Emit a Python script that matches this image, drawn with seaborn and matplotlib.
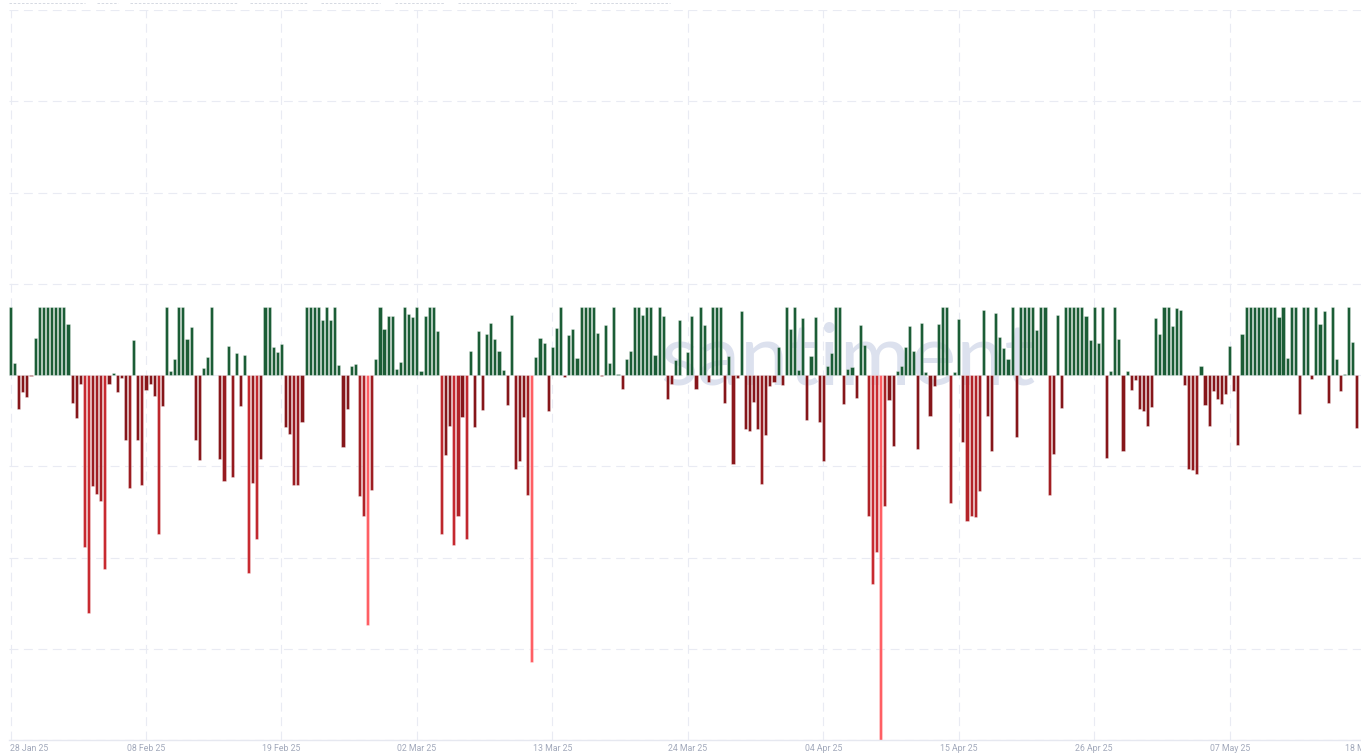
import matplotlib.pyplot as plt
import matplotlib.dates as mdates
from matplotlib.lines import Line2D
import numpy as np
import pandas as pd
import seaborn as sns

# 8-hourly bars, 28 Jan 2025 onwards (positive side is capped at 0.75)
start = "2025-01-28"
values = [
    0.75, 0.13, -0.37, -0.19, -0.24, -0.01, 0.41, 0.75, 0.75, 0.75,
    0.75, 0.75, 0.75, 0.75, 0.56, -0.31, -0.47, -0.10, -1.88, -2.61,
    -1.22, -1.30, -1.38, -2.13, -0.10, 0.02, -0.19, -0.03, -0.71, -1.24,
    0.38, -0.71, -1.21, -0.16, -0.10, -0.23, -1.74, -0.34, 0.75, 0.04,
    0.18, 0.75, 0.75, 0.39, 0.53, -0.71, -0.93, 0.08, 0.20, 0.75,
    0.005, -0.92, -1.16, 0.32, -1.12, 0.24, -0.34, 0.22, -2.17, -1.18,
    -1.80, -0.92, 0.75, 0.75, 0.31, 0.25, 0.34, -0.57, -0.65, -1.20,
    -1.20, -0.51, 0.75, 0.75, 0.75, 0.75, 0.60, 0.75, 0.60, 0.75,
    0.11, -0.79, -0.37, 0.10, 0.12, -1.33, -1.54, -2.74, -1.26, 0.18,
    0.75, 0.50, 0.65, 0.65, 0.07, 0.14, 0.75, 0.67, 0.64, 0.75,
    0.04, 0.65, 0.75, 0.75, 0.48, -1.74, -0.88, -0.56, -1.86, -1.55,
    -0.46, -1.80, 0.26, -0.57, 0.48, -0.38, 0.45, 0.57, 0.39, 0.26,
    0.05, -0.33, 0.66, -1.03, -0.94, -0.46, -1.32, -3.14, 0.20, 0.41,
    0.35, -0.39, 0.31, 0.52, 0.75, -0.02, 0.44, 0.50, 0.19, 0.75,
    0.75, 0.75, 0.75, 0.46, -0.015, 0.55, 0.13, 0.75, 0.015, -0.15,
    0.18, 0.26, 0.75, 0.75, 0.66, 0.75, 0.75, 0.22, 0.75, 0.65,
    -0.26, -0.10, 0.16, 0.60, 0.0, 0.25, 0.65, -0.15, 0.75, 0.55,
    -0.08, 0.75, 0.75, 0.75, -0.31, 0.21, -0.98, -0.03, 0.70, -0.59,
    -0.61, -0.30, -0.59, -1.19, -0.66, -0.12, -0.08, 0.31, -0.11, 0.75,
    0.50, 0.75, 0.05, 0.62, -0.49, 0.21, 0.64, -0.51, -0.94, 0.10,
    0.24, 0.75, 0.75, -0.32, 0.07, 0.09, -0.25, 0.55, 0.33, -1.54,
    -2.29, -1.94, -4.00, -1.44, -0.27, -0.78, 0.04, 0.10, 0.31, 0.54,
    0.26, -0.81, 0.57, 0.03, -0.45, -0.12, 0.56, 0.75, 0.75, -1.40,
    0.03, 0.61, -0.73, -1.60, -1.55, -1.56, -1.27, 0.71, -0.45, -0.83,
    0.68, 0.42, 0.30, 0.18, 0.75, -0.68, 0.75, 0.75, 0.75, 0.75,
    0.49, 0.75, 0.75, -1.32, -0.87, 0.66, -0.36, 0.75, 0.75, 0.75,
    0.75, 0.75, 0.65, 0.38, 0.75, 0.35, 0.75, -0.91, 0.04, 0.75,
    0.39, -0.83, 0.04, -0.16, -0.05, -0.37, -0.39, -0.56, -0.35, 0.63,
    0.45, 0.75, 0.75, 0.54, 0.73, 0.71, -0.11, -1.03, -1.04, -1.08,
    0.10, -0.33, -0.56, -0.18, -0.26, -0.32, -0.21, 0.32, -0.18, -0.77,
    0.45, 0.75, 0.75, 0.75, 0.75, 0.75, 0.75, 0.75, 0.75, 0.64,
    0.75, 0.19, 0.75, 0.75, -0.43, 0.75, 0.75, -0.04, 0.75, 0.56,
    0.70, -0.31, 0.75, 0.18, -0.18, 0.01, 0.75, 0.36, -0.58,
]
tick_dates = pd.date_range(start, periods=11, freq="11D")
tick_labels = [d.strftime("%d %b %y") for d in tick_dates]

times = pd.date_range(start, periods=len(values), freq="8h")
xnum = mdates.date2num(times)

green = "#1b5d36"
dark_red = np.array([0x86, 0x16, 0x1a]) / 255
bright_red = np.array([0xc8, 0x2a, 0x30]) / 255
pale_red = "#ff5f64"


def bar_color(v):
    if v >= 0:
        return green
    m = -v
    if m >= 2.7:
        return pale_red
    t = np.clip((m - 0.9) / 1.0, 0, 1)
    return tuple(dark_red + (bright_red - dark_red) * t)


sns.set_theme(style="white")
plt.rcParams['font.family'] = ['Roboto', 'DejaVu Sans']

fig = plt.figure(figsize=(13.61, 7.53), dpi=100)
W, H = 1361, 753
ax = fig.add_axes([9 / W, 13 / H, 1361 / W, 730 / H])

sns.barplot(x=xnum, y=values, native_scale=True, errorbar=None, ax=ax,
            color=green, width=0.76, linewidth=0.4,
            edgecolor=(1, 1, 1, 0.55), zorder=2)
for p, v in zip(ax.patches, values):
    p.set_facecolor(bar_color(v))

# scale: 12.315 px per day, first bar centre at x=10.5 px
px_per_day = 12.315
left = xnum[0] - 1.5 / px_per_day
ax.set_xlim(left, left + 1361 / px_per_day)
ax.set_ylim(-4, 4)

ax.set_xticks(mdates.date2num(tick_dates))
ax.set_xticklabels(tick_labels)
ax.set_yticks(np.arange(-4, 5, 1))
ax.set_yticklabels([])
ax.get_xticklabels()[0].set_horizontalalignment("left")
ax.tick_params(axis="both", length=0, labelsize=6.3, colors="#a2a9bb", pad=3)
ax.set_xlabel("")
ax.set_ylabel("")

ax.set_axisbelow(True)
ax.grid(True, color="#e9ebf3", linewidth=0.8, linestyle=(0, (8, 5)))
for s in ["top", "right", "left"]:
    ax.spines[s].set_visible(False)
ax.spines["bottom"].set_color("#e6e8f0")
ax.spines["bottom"].set_linewidth(1.0)

# watermark
ax.text(0.616, 0.52, "santiment", transform=ax.transAxes, fontsize=62,
        color="#dce1ee", ha="center", va="center", family="Lato", zorder=1)

# faint header row at the very top
for x0, x1 in [(9, 85), (97, 118), (130, 238), (250, 307), (321, 380),
               (395, 444), (458, 576), (590, 670)]:
    fig.add_artist(Line2D([x0 / W, x1 / W], [1 - 2.5 / H, 1 - 2.5 / H],
                          transform=fig.transFigure, color="#cfd3dd",
                          linewidth=0.6, linestyle=(0, (3, 2))))

fig.savefig("out.png", dpi=100)
